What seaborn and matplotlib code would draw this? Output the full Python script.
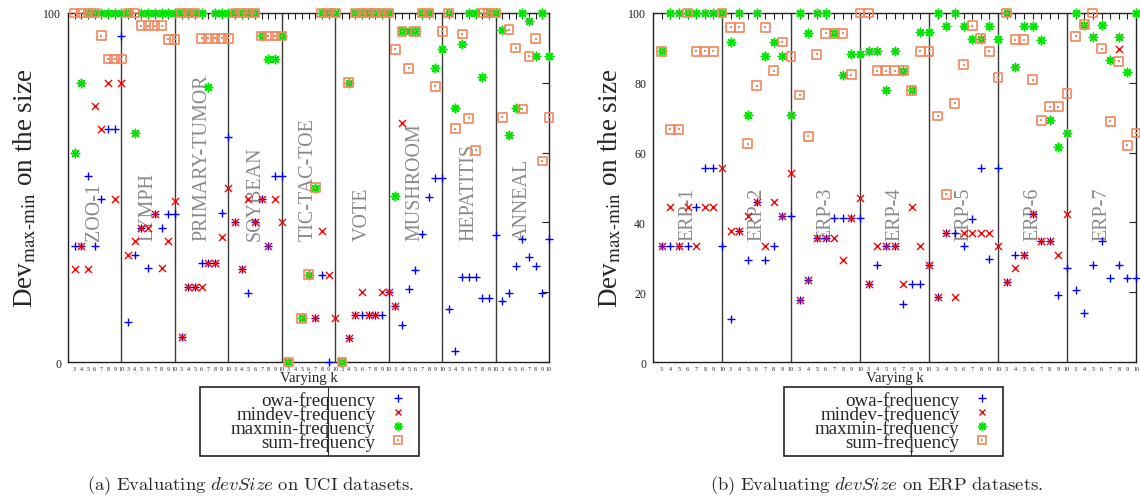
import numpy as np
import pandas as pd
import matplotlib
matplotlib.use('Agg')
import matplotlib.pyplot as plt
import seaborn as sns
from matplotlib.lines import Line2D
from matplotlib.patches import Rectangle
from matplotlib.legend_handler import HandlerTuple

nan = np.nan

# x axis: each dataset is a block of k = 3..10
k_values = [3, 4, 5, 6, 7, 8, 9, 10]
series_names = ['owa-frequency', 'mindev-frequency', 'maxmin-frequency', 'sum-frequency']

# ---- (a) UCI datasets ----
uci_sets = ['ZOO-1', 'LYMPH', 'PRIMARY-TUMOR', 'SOYBEAN', 'TIC-TAC-TOE',
            'VOTE', 'MUSHROOM', 'HEPATITIS', 'ANNEAL']
uci_owa = [
    [33.3, 33.3, 53.3, 33.3, 46.7, 66.7, 66.7, 93.5],
    [11.6, 30.7, 38.5, 27.0, 42.4, 38.5, 42.4, 42.4],
    [7.2, 21.6, 21.6, 28.5, 28.5, 28.5, 42.8, 64.5],
    [40.0, 26.6, 19.9, 40.0, 46.7, 33.3, 53.3, 53.3],
    [nan, nan, nan, nan, 12.5, 25.0, 0.0, nan],
    [nan, 6.8, 13.5, 13.5, 13.5, 13.5, 13.5, 20.0],
    [16.0, 10.5, 21.0, 26.3, 36.8, 47.3, 52.6, 52.6],
    [15.1, 3.2, 24.4, 24.4, 24.4, 18.2, 18.2, 36.3],
    [17.5, 19.9, 27.5, 35.2, 30.1, 27.5, 19.9, 35.2],
]
uci_mindev = [
    [26.6, 33.3, 26.6, 73.4, 66.7, 80.0, 46.7, 80.0],
    [30.7, 34.6, 38.5, 38.5, 42.4, 27.0, 34.6, 46.2],
    [7.2, 21.6, 21.6, 21.6, 28.5, 28.5, 35.7, 50.0],
    [40.0, 26.6, 46.7, 40.0, 46.7, 33.3, 46.7, 40.0],
    [nan, nan, nan, nan, 12.5, 37.6, 25.0, 12.5],
    [nan, 6.8, 13.5, 20.0, 13.5, 13.5, 20.0, 20.0],
    [16.0, 68.4, nan, nan, nan, nan, nan, nan],
    [nan, nan, nan, nan, nan, nan, nan, nan],
    [nan, nan, nan, nan, nan, nan, nan, nan],
]
uci_maxmin = [
    [60.0, 80.0, 100, 100, 100, 100, 100, 100],
    [100, 65.5, 100, 100, 100, 100, 100, 100],
    [100, 100, 100, 100, 78.7, 100, 100, 100],
    [100, 100, 100, 100, 93.4, 86.8, 86.8, 93.4],
    [0.0, nan, 12.5, 25.0, 50.0, 100, 100, 100],
    [0.0, 80.0, 100, 100, 100, 100, 100, 100],
    [47.5, 94.8, 94.8, 94.8, 100, 100, 84.2, 89.6],
    [100, 72.8, 91.0, 100, 100, 81.8, 100, 100],
    [95.0, 65.0, 72.7, 100, 97.6, 87.6, 100, 87.6],
]
uci_sum = [
    [100, 100, 100, 100, 93.5, 86.8, 86.8, 86.8],
    [100, 100, 96.4, 96.4, 96.4, 96.4, 92.5, 92.5],
    [100, 100, 100, 92.8, 92.8, 92.8, 92.8, 92.8],
    [100, 100, 100, 100, 93.4, 93.4, 93.4, 93.4],
    [0.0, nan, 12.5, 25.0, 50.0, 100, 100, 100],
    [0.0, 80.0, 100, 100, 100, 100, 100, 100],
    [89.6, 94.8, 84.2, 94.8, 100, 100, 79.0, 94.8],
    [100, 66.9, 94.0, 69.8, 60.7, 100, 100, 100],
    [70.1, 95.2, 90.0, 72.5, 87.6, 92.6, 57.6, 70.1],
]

# ---- (b) ERP datasets ----
erp_sets = ['ERP-1', 'ERP-2', 'ERP-3', 'ERP-4', 'ERP-5', 'ERP-6', 'ERP-7']
erp_owa = [
    [33.3, 33.3, 33.3, 33.3, 44.5, 55.5, 55.5, 33.3],
    [12.4, 37.4, 29.2, 45.9, 29.2, 33.3, 41.8, 41.8],
    [17.7, 23.4, 35.4, 35.4, 41.3, 41.3, 41.3, 41.3],
    [22.3, 27.8, 33.3, 33.3, 16.7, 22.3, 22.3, 27.8],
    [18.5, 37.1, 37.1, 33.3, 40.9, 55.5, 29.6, 55.5],
    [23.0, 30.7, 30.7, 42.4, 34.6, 34.6, 19.2, 27.0],
    [20.7, 14.0, 27.7, 34.6, 24.2, 27.7, 24.2, 24.2],
]
erp_mindev = [
    [33.3, 44.5, 33.3, 44.5, 33.3, 44.5, 44.5, 55.5],
    [37.4, 37.4, 41.8, 45.9, 33.3, 45.9, 41.8, 54.1],
    [17.7, 23.4, 35.4, 35.4, 35.4, 29.3, 41.3, 47.1],
    [22.3, 33.3, 33.3, 33.3, 22.3, 44.5, 33.3, 27.8],
    [18.5, 37.1, 18.5, 37.1, 37.1, 37.1, 37.1, 33.3],
    [23.0, 27.0, 30.7, 42.4, 34.6, 34.6, 30.7, 42.4],
    [nan, 96.6, 93.1, nan, nan, 89.8, nan, nan],
]
erp_maxmin = [
    [89.0, 100, 100, 100, 100, 100, 100, 100],
    [91.7, 100, 70.9, 100, 87.6, 91.7, 87.6, 70.9],
    [100, 94.2, 100, 100, 94.2, 82.3, 88.2, 88.2],
    [89.0, 89.0, 77.9, 89.0, 83.5, 77.9, 94.5, 94.5],
    [100, 96.4, 100, 96.4, 92.6, 92.6, 96.4, 92.6],
    [100, 84.6, 96.2, 96.2, 92.4, 69.3, 61.7, 65.5],
    [100, 96.6, 93.1, 96.6, 86.4, 93.1, 83.1, 100],
]
erp_sum = [
    [89.0, 66.7, 66.7, 100, 89.0, 89.0, 89.0, 100],
    [95.9, 95.9, 62.6, 79.2, 95.9, 83.5, 91.7, 87.6],
    [76.5, 64.7, 88.2, 94.2, 94.2, 94.2, 82.3, 100],
    [100, 83.5, 83.5, 83.5, 83.5, 77.9, 89.0, 89.0],
    [70.5, 48.1, 74.1, 85.2, 96.4, 92.6, 89.0, 81.5],
    [100, 92.4, 92.4, 80.9, 69.3, 73.1, 73.1, 77.0],
    [93.3, 96.6, 100, 89.8, 69.0, 86.2, 62.1, 65.6],
]

blue, red, green, orange = '#0000ff', '#ff0000', '#00e400', '#f3865c'
serif = ['Liberation Serif', 'DejaVu Serif']

sns.set_style('white')
plt.rcParams['font.family'] = serif


def to_frame(sets, tables):
    rows = []
    for name, table in zip(series_names, tables):
        for g, vals in enumerate(table):
            for k, v in zip(k_values, vals):
                rows.append({'series': name, 'dataset': sets[g], 'k': k,
                             'pos': g * len(k_values) + k - 2, 'value': v})
    return pd.DataFrame(rows).dropna()


def draw_panel(ax, sets, df, full_yticks):
    n = len(k_values)
    for g in range(1, len(sets)):
        ax.axvline(g * n, color='#3a3a3a', lw=1.0, zorder=1)
    for g, name in enumerate(sets):
        ax.text(g * n + n / 2, 35, name, rotation=90, ha='center', va='bottom',
                color='#8a8a8a', fontsize=14.4, family=serif, zorder=1)

    common = dict(x='pos', y='value', ax=ax, legend=False, clip_on=False)
    sub = df[df['series'] == 'owa-frequency']
    sns.scatterplot(data=sub, marker='+', s=36, color=blue, linewidth=1.0, zorder=3, **common)
    sub = df[df['series'] == 'mindev-frequency']
    sns.scatterplot(data=sub, marker='x', s=26, color=red, linewidth=1.0, zorder=4, **common)
    sub = df[df['series'] == 'maxmin-frequency']
    sns.scatterplot(data=sub, marker=(8, 2, 0), s=36, color=green, linewidth=1.1, zorder=5, **common)
    sub = df[df['series'] == 'sum-frequency']
    sns.scatterplot(data=sub, marker='s', s=40, color=orange, facecolor='none',
                    edgecolor=orange, linewidth=1.2, zorder=6, **common)
    sns.scatterplot(data=sub, marker='s', s=2.5, color=orange, linewidth=0, zorder=6, **common)

    ax.set_xlim(0, n * len(sets))
    ax.set_ylim(0, 100)
    ax.set_xticks(np.arange(1, n * len(sets) + 1))
    ax.set_xticklabels([str(k) for k in k_values] * len(sets))
    yt = [0, 20, 40, 60, 80, 100]
    ax.set_yticks(yt)
    if full_yticks:
        ax.set_yticklabels([str(v) for v in yt])
    else:
        ax.set_yticklabels(['0', '', '', '', '', '100'])
    ax.tick_params(axis='x', direction='in', top=True, length=4, width=0.8,
                   labelsize=4.3, pad=3, colors='#222222')
    ax.tick_params(axis='y', direction='in', right=True, length=5, width=0.8,
                   labelsize=8.6, pad=5, colors='#222222')
    for sp in ax.spines.values():
        sp.set_color('#222222')
        sp.set_linewidth(1.0)
    ax.set_xlabel('Varying k', fontsize=10.6, labelpad=0)
    ax.set_ylabel(r'Dev$_{\text{max-min}}$ on the size', fontsize=19.5,
                  math_fontfamily='stix')
    ax.yaxis.set_label_coords(-0.062, 0.5)


fig = plt.figure(figsize=(11.4, 5.02), dpi=100)
W, H = 1140.0, 502.0
ax1 = fig.add_axes([68 / W, 139 / H, 481 / W, 349 / H])
ax2 = fig.add_axes([653 / W, 139 / H, 483 / W, 349 / H])

draw_panel(ax1, uci_sets, to_frame(uci_sets, [uci_owa, uci_mindev, uci_maxmin, uci_sum]), False)
draw_panel(ax2, erp_sets, to_frame(erp_sets, [erp_owa, erp_mindev, erp_maxmin, erp_sum]), True)

# legends, gnuplot style: labels right-aligned, marker to the right
handles = [
    Line2D([], [], ls='none', marker='+', color=blue, markersize=6, mew=1.0),
    Line2D([], [], ls='none', marker='x', color=red, markersize=5, mew=1.0),
    Line2D([], [], ls='none', marker=(8, 2, 0), color=green, markersize=6, mew=1.1),
    (Line2D([], [], ls='none', marker='s', mfc='none', mec=orange, markersize=6.3, mew=1.2),
     Line2D([], [], ls='none', marker='s', color=orange, markersize=1.6, mew=0)),
]
for ax, box_left, mid_line in [(ax1, 200, 328), (ax2, 784, 911)]:
    fig.add_artist(Rectangle((box_left / W, (H - 457) / H), 219 / W, 69 / H,
                             transform=fig.transFigure, fill=False, lw=1.2, ec='#222222'))
    fig.add_artist(Line2D([mid_line / W, mid_line / W], [(H - 457) / H, (H - 388) / H],
                          transform=fig.transFigure, color='#333333', lw=0.8))
    ax.legend(handles, series_names, handler_map={tuple: HandlerTuple(ndivide=1)},
              markerfirst=False, frameon=False, loc='upper right',
              bbox_to_anchor=((box_left + 208) / W, (H - 392) / H),
              bbox_transform=fig.transFigure, fontsize=13.7, handlelength=1.0,
              handletextpad=0.7, labelspacing=-0.2, borderpad=0, borderaxespad=0)

fig.text(251 / W, (H - 486) / H,
         r'$\mathrm{(a)\ Evaluating\ }devSize\mathrm{\ on\ UCI\ datasets.}$',
         ha='center', va='center', fontsize=13.4, math_fontfamily='cm')
fig.text(877 / W, (H - 486) / H,
         r'$\mathrm{(b)\ Evaluating\ }devSize\mathrm{\ on\ ERP\ datasets.}$',
         ha='center', va='center', fontsize=13.4, math_fontfamily='cm')

fig.savefig('out.png', dpi=100)
